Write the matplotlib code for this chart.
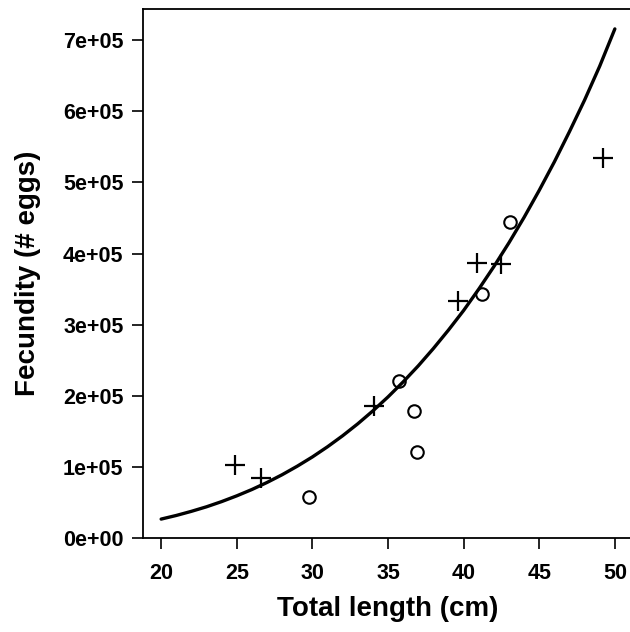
import numpy as np
import matplotlib
matplotlib.use("Agg")
import matplotlib.pyplot as plt

plt.rcParams['font.family'] = ['Liberation Sans', 'DejaVu Sans']
plt.rcParams['font.weight'] = 'bold'

# fitted curve (every 1 cm)
curve_len = [20, 21, 22, 23, 24, 25, 26, 27, 28, 29, 30, 31, 32, 33, 34, 35,
             36, 37, 38, 39, 40, 41, 42, 43, 44, 45, 46, 47, 48, 49, 50]
curve_fec = [26600, 31700, 37500, 43900, 51200, 59300, 68200, 78100, 89000,
             101000, 114000, 128300, 143800, 160600, 178800, 198400, 219500,
             242100, 266500, 292500, 320000, 350000, 381700, 415300, 451000,
             489000, 529000, 571600, 616000, 663700, 716000]

# plus points
plus_len = [24.9, 26.6, 34.1, 39.6, 40.9, 42.5, 49.2]
plus_fec = [103000, 84000, 186000, 334000, 387000, 385000, 535000]

# circle points
circ_len = [29.8, 35.7, 36.7, 36.9, 41.2, 43.1]
circ_fec = [58000, 221000, 179000, 121000, 343000, 445000]

xticks = [20, 25, 30, 35, 40, 45, 50]
yticks = [0, 1e5, 2e5, 3e5, 4e5, 5e5, 6e5, 7e5]
ytick_labels = ['0e+00', '1e+05', '2e+05', '3e+05', '4e+05', '5e+05', '6e+05', '7e+05']

fig = plt.figure(figsize=(6.3, 6.32), dpi=100)
ax = fig.add_axes([143/630, 94/632, 490/630, 529/632])

ax.plot(curve_len, curve_fec, color='black', lw=2.4, solid_capstyle='round')
ax.plot(plus_len, plus_fec, ls='none', marker='+', ms=15, mew=1.6, color='black')
ax.plot(circ_len, circ_fec, ls='none', marker='o', ms=9, mew=1.5,
        mfc='none', mec='black')

ax.set_xlim(18.8, 51.2)
ax.set_ylim(0, 7.44e5)
ax.set_xticks(xticks)
ax.set_xticklabels([str(t) for t in xticks])
ax.set_yticks(yticks)
ax.set_yticklabels(ytick_labels)
ax.tick_params(direction='out', length=8, width=1.2, labelsize=15.5)
ax.tick_params(axis='x', pad=10)
ax.tick_params(axis='y', pad=6)
for s in ax.spines.values():
    s.set_linewidth(1.3)

ax.set_xlabel('Total length (cm)', fontsize=20, fontweight='bold', labelpad=9)
ax.set_ylabel('Fecundity (# eggs)', fontsize=20, fontweight='bold', labelpad=16)

fig.savefig('out.png', dpi=100)
